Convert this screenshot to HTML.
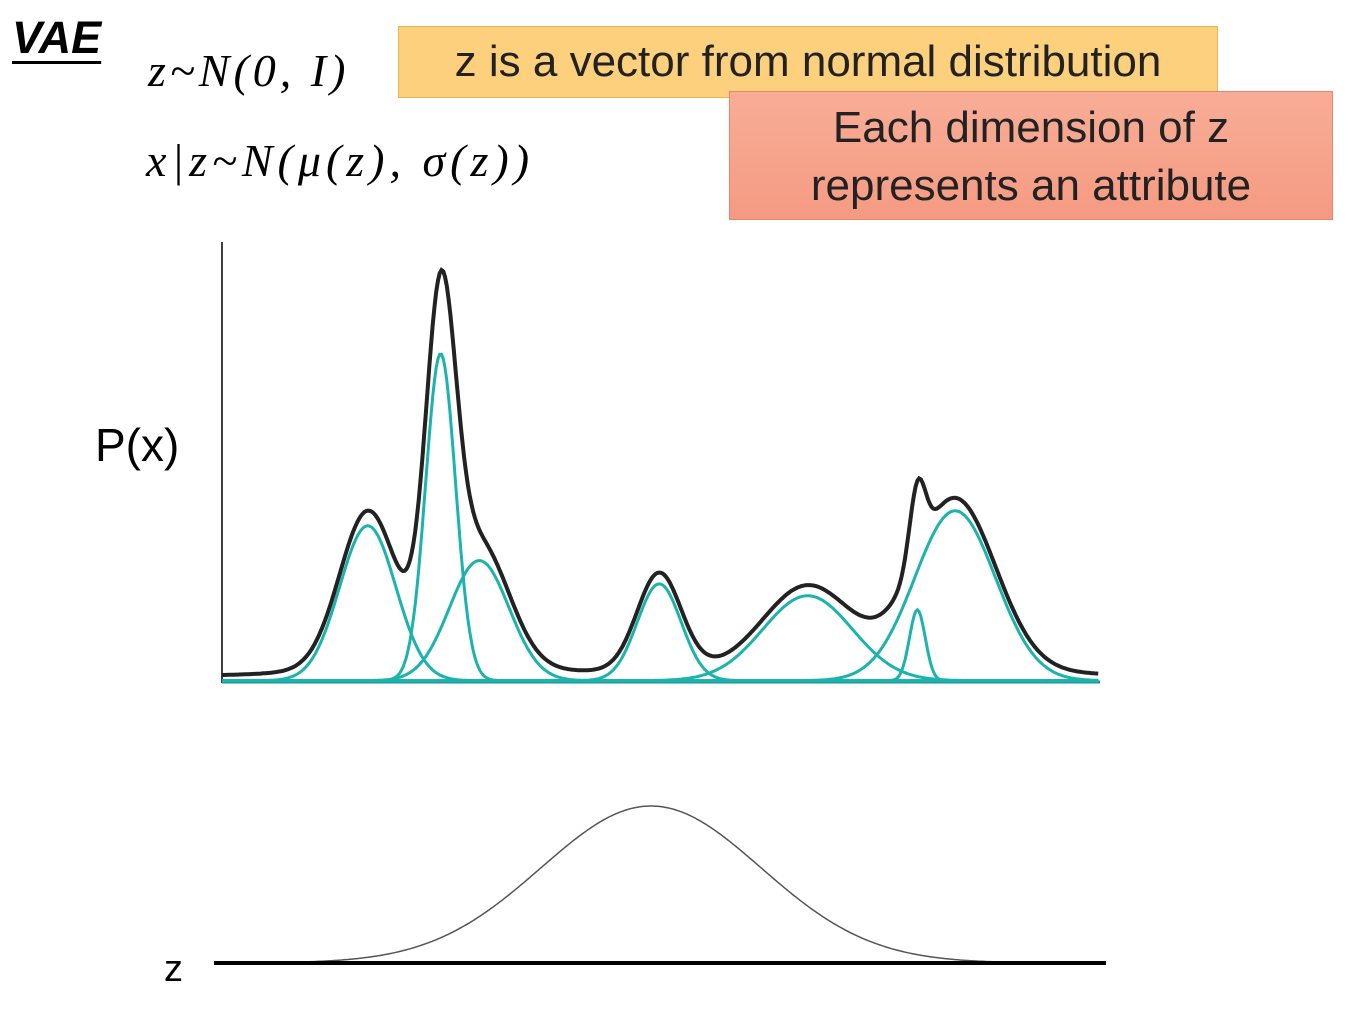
<!DOCTYPE html>
<html><head><meta charset="utf-8"><style>
body{margin:0;background:#fff;width:1353px;height:1019px;overflow:hidden;position:relative;font-family:"Liberation Sans",sans-serif}
.t{position:absolute;white-space:nowrap}
</style></head><body>
<div class="t" style="left:12px;top:12px;font-size:45px;font-weight:bold;font-style:italic;text-decoration:underline;text-decoration-thickness:3px;text-underline-offset:8px">VAE</div>
<div class="t" style="left:148px;top:44px;font-family:'Liberation Serif',serif;font-style:italic;font-size:46px;letter-spacing:4px">z~N(0, I)</div>
<div class="t" style="left:146px;top:134px;font-family:'Liberation Serif',serif;font-style:italic;font-size:46px;letter-spacing:5px">x|z~N(μ(z), σ(z))</div>
<div class="t" style="left:398px;top:26px;width:818px;height:70px;background:#fcd07c;border:1px solid #f0b54a;font-size:44px;line-height:70px;text-align:center;color:#222">z is a vector from normal distribution</div>
<div class="t" style="left:729px;top:91px;width:604px;height:129px;background:linear-gradient(#f8ad97,#f59a82);border:1px solid #e9856d;font-size:44px;line-height:58px;text-align:center;padding-top:7px;box-sizing:border-box;color:#222">Each dimension of z<br>represents an attribute</div>
<div class="t" style="left:95px;top:418px;font-size:46px">P(x)</div>
<div class="t" style="left:164px;top:948px;font-size:38px">z</div>
<svg id="chart" width="1353" height="1019" style="position:absolute;left:0;top:0"></svg>
<script>
const means=[16.6,24.9,29.3,49.8,66.7,79.2,83.5];
const heights=[35.2,74.3,27.3,22,19.3,16.1,38.6];
const sigmas=[3.2,1.7,3.4,2.5,5.1,0.9,4.6];
const priorMean=[49];
const priorHeight=[157];
const priorSigma=[110];
const NS="http://www.w3.org/2000/svg";
const svg=document.getElementById('chart');
const xs=v=>222+v*8.78, ys=v=>682-v*4.4;
function mk(tag,attrs){const e=document.createElementNS(NS,tag);for(const k in attrs)e.setAttribute(k,attrs[k]);svg.appendChild(e);return e;}
function g(x,m,h,s){return h*Math.exp(-(x-m)*(x-m)/(2*s*s));}
const yax=mk('line',{x1:222,y1:242,x2:222,y2:683,stroke:'#000','stroke-width':1.5});


const xax=mk('line',{x1:222,y1:682,x2:1100,y2:682,stroke:'#1a8f8c','stroke-width':3});


let sumPts=[];
for(let i=0;i<means.length;i++){
  let p=[];
  for(let x=0;x<=100;x+=0.2)p.push(xs(x).toFixed(1)+','+ys(g(x,means[i],heights[i],sigmas[i])+0.3).toFixed(1));
  const c=mk('polyline',{points:p.join(' '),fill:'none',stroke:'#1db3ad','stroke-width':3});
  
  
}
for(let x=0;x<=100;x+=0.2){let s=1;for(let i=0;i<means.length;i++)s+=g(x,means[i],heights[i],sigmas[i])*0.97+heights[i]*0.07/(1+Math.pow((x-means[i])/(sigmas[i]*2),2));sumPts.push(xs(x).toFixed(1)+','+ys(s).toFixed(1));}
const mix=mk('polyline',{points:sumPts.join(' '),fill:'none',stroke:'#222','stroke-width':4});


let pp=[];
for(let x=214;x<=1106;x+=2)pp.push(x+','+(963-g(x,651,priorHeight[0],priorSigma[0])).toFixed(1));
const pr=mk('polyline',{points:pp.join(' '),fill:'none',stroke:'#555','stroke-width':1.5});


const zax=mk('line',{x1:214,y1:963,x2:1106,y2:963,stroke:'#000','stroke-width':4});


</script>
</body></html>
